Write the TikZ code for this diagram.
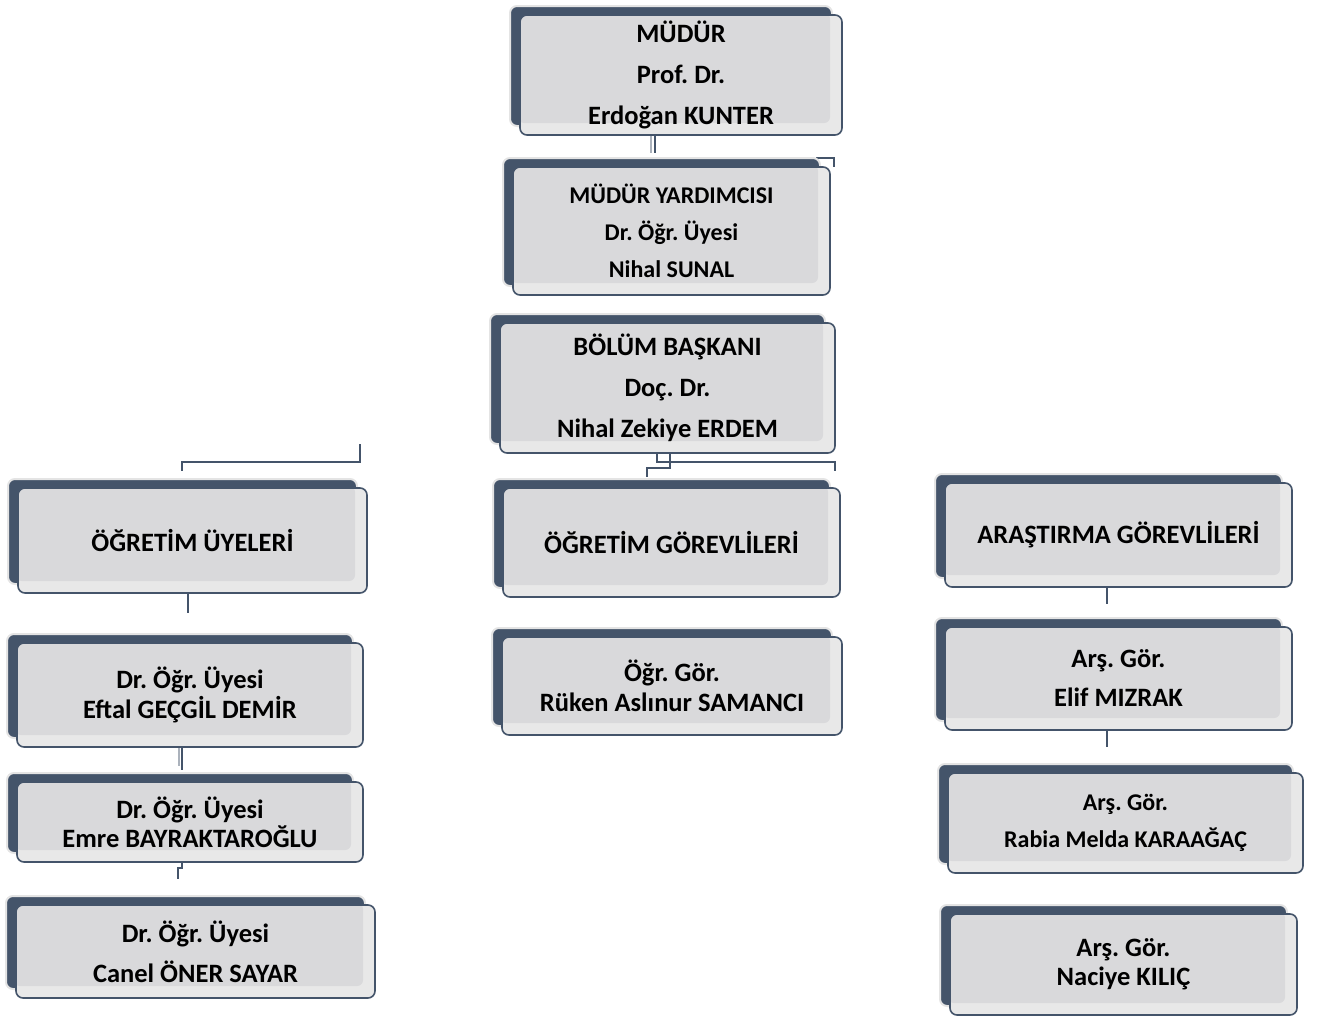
\documentclass[tikz,border=0pt]{standalone}
\usepackage{fontspec}
\setmainfont{Carlito}
\frenchspacing
\usetikzlibrary{shadows}
\definecolor{slate}{HTML}{44546A}
\definecolor{rim}{HTML}{E4E4E4}
\definecolor{frontgray}{HTML}{E8E8E8}
\definecolor{innergray}{HTML}{D9D9DB}
\tikzset{
  orgbox/.style={draw=slate, line width=1.6pt, rounded corners=7pt, fill=frontgray,
    inner sep=0pt, align=center, text=black,
    general shadow={fill=slate, draw=rim, line width=2pt, shadow xshift=-10pt, shadow yshift=9pt},
    path picture={\fill[innergray, rounded corners=6pt] ([xshift=-2pt,yshift=2pt]path picture bounding box.north west) rectangle ([xshift=-12pt,yshift=12pt]path picture bounding box.south east);}},
  big/.style={font=\bfseries\fontsize{26.5}{41}\selectfont},
  conn/.style={draw=slate, line width=2pt},
  connlight/.style={draw=slate!45, line width=2pt}
}
\begin{document}
\begin{tikzpicture}[x=1pt,y=-1pt]
\useasboundingbox (0,0) rectangle (1322,1017);
% connectors (behind boxes)
\coordinate (c1a) at (651,133); \coordinate (c1b) at (651,153);
\coordinate (c2a) at (655,133); \coordinate (c2b) at (655,153);
\draw[connlight] (c1a) -- (c1b);
\draw[conn] (c2a) -- (c2b);
\coordinate (k1) at (816,158); \coordinate (k2) at (834,158); \coordinate (k3) at (834,167);
\draw[conn] (k1) -- (k2) -- (k3);
% below bolum baskani
\coordinate (d1) at (670,450); \coordinate (d2) at (670,468); \coordinate (d3) at (647,468); \coordinate (d4) at (647,477);
\draw[conn] (d1) -- (d2) -- (d3) -- (d4);
\coordinate (e1) at (657,448); \coordinate (e2) at (657,462); \coordinate (e3) at (835,462); \coordinate (e4) at (835,471);
\draw[conn] (e1) -- (e2) -- (e3) -- (e4);
\coordinate (f1) at (360,444); \coordinate (f2) at (360,462); \coordinate (f3) at (182,462); \coordinate (f4) at (182,471);
\draw[conn] (f1) -- (f2) -- (f3) -- (f4);
\coordinate (g1) at (188,590); \coordinate (g2) at (188,613);
\draw[conn] (g1) -- (g2);
\coordinate (h1) at (179,742); \coordinate (h2) at (179,766);
\coordinate (h3) at (182,742); \coordinate (h4) at (182,770);
\draw[connlight] (h1) -- (h2);
\draw[conn] (h3) -- (h4);
\coordinate (i1) at (182,858); \coordinate (i2) at (182,868); \coordinate (i3) at (178,868); \coordinate (i4) at (178,879);
\draw[conn] (i1) -- (i2) -- (i3) -- (i4);
\coordinate (j1) at (1107,585); \coordinate (j2) at (1107,604);
\draw[conn] (j1) -- (j2);
\coordinate (l1) at (1107,728); \coordinate (l2) at (1107,747);
\draw[conn] (l1) -- (l2);
% boxes
\node[orgbox, big, minimum width=322pt, minimum height=120pt] (b1) at (681,75)
  {MÜDÜR\\Prof. Dr.\\Erdoğan KUNTER};
\node[orgbox, font=\bfseries\fontsize{24}{37}\selectfont, minimum width=317pt, minimum height=128pt] (b2) at (671.5,231)
  {MÜDÜR YARDIMCISI\\Dr. Öğr. Üyesi\\Nihal SUNAL};
\node[orgbox, big, minimum width=335pt, minimum height=130pt] (b3) at (667.5,388)
  {BÖLÜM BAŞKANI\\Doç. Dr.\\Nihal Zekiye ERDEM};
\node[orgbox, big, minimum width=337pt, minimum height=109pt] (b4) at (671.5,542.5)
  {ÖĞRETİM GÖREVLİLERİ};
\node[orgbox, big, minimum width=349pt, minimum height=105pt] (b5) at (192.5,540.5)
  {ÖĞRETİM ÜYELERİ};
\node[orgbox, big, minimum width=347pt, minimum height=104pt] (b6) at (1118.5,535)
  {ARAŞTIRMA GÖREVLİLERİ};
\node[orgbox, font=\bfseries\fontsize{26.5}{30}\selectfont, minimum width=346pt, minimum height=104pt] (b7) at (190,695)
  {Dr. Öğr. Üyesi\\Eftal GEÇGİL DEMİR};
\node[orgbox, font=\bfseries\fontsize{26.5}{29}\selectfont, minimum width=346pt, minimum height=80pt] (b8) at (190,822)
  {Dr. Öğr. Üyesi\\Emre BAYRAKTAROĞLU};
\node[orgbox, font=\bfseries\fontsize{26.5}{40}\selectfont, minimum width=359pt, minimum height=93pt] (b9) at (195.5,951.5)
  {Dr. Öğr. Üyesi\\Canel ÖNER SAYAR};
\node[orgbox, font=\bfseries\fontsize{26.5}{30}\selectfont, minimum width=340pt, minimum height=98pt] (b10) at (672,686)
  {Öğr. Gör.\\Rüken Aslınur SAMANCI};
\node[orgbox, font=\bfseries\fontsize{26.5}{39}\selectfont, minimum width=347pt, minimum height=103pt] (b11) at (1118.5,678.5)
  {Arş. Gör.\\Elif MIZRAK};
\node[orgbox, font=\bfseries\fontsize{24}{37}\selectfont, minimum width=355pt, minimum height=100pt] (b12) at (1125.5,823)
  {Arş. Gör.\\Rabia Melda KARAAĞAÇ};
\node[orgbox, font=\bfseries\fontsize{26.5}{29}\selectfont, minimum width=347pt, minimum height=101pt] (b13) at (1123.5,964.5)
  {Arş. Gör.\\Naciye KILIÇ};
\end{tikzpicture}
\end{document}
